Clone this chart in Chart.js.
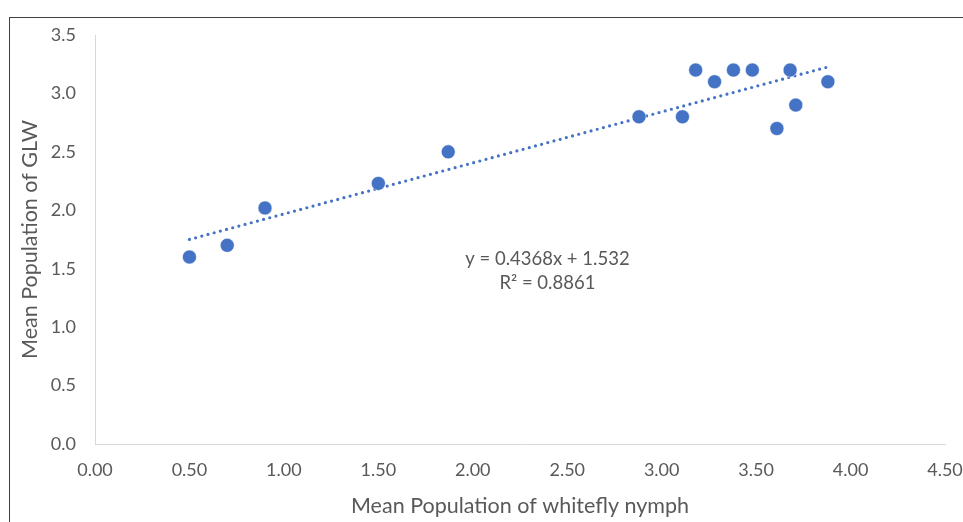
<!DOCTYPE html>
<html>
<head>
<meta charset="utf-8">
<script src="https://cdn.jsdelivr.net/npm/chart.js@4.4.0/dist/chart.umd.min.js"></script>
<style>
  html, body { margin: 0; padding: 0; background: #fff; }
  #wrap { width: 963px; height: 522px; position: relative; }
</style>
</head>
<body>
<div id="wrap"><canvas id="chart"></canvas></div>
<script>
// values
const nymphX = [0.50, 0.70, 0.90, 1.50, 1.87, 2.88, 3.11, 3.18, 3.28, 3.38, 3.48, 3.61, 3.68, 3.71, 3.88];
const glwY   = [1.60, 1.70, 2.02, 2.23, 2.50, 2.80, 2.80, 3.20, 3.10, 3.20, 3.20, 2.70, 3.20, 2.90, 3.10];

// trendline as printed on the chart
const slope = 0.4368;
const intercept = 1.532;
const eqLines = ['y = 0.4368x + 1.532', 'R\u00b2 = 0.8861'];
const eqAt = { x: 2.395, y: 1.58 };

const points = nymphX.map((x, i) => ({ x: x, y: glwY[i] }));
const xMin = Math.min(...nymphX), xMax = Math.max(...nymphX);
const trend = [xMin, xMax].map(x => ({ x: x, y: slope * x + intercept }));

const grey = '#595959';
const blue = '#4472C4';

const extras = {
  id: 'extras',
  afterDraw(chart) {
    const ctx = chart.ctx;
    const xs = chart.scales.x, ys = chart.scales.y;
    ctx.save();
    // outer chart frame (only top/left visible)
    ctx.strokeStyle = '#404040';
    ctx.lineWidth = 1;
    ctx.strokeRect(9.5, 17.5, 1000, 1000);
    // equation label
    ctx.fillStyle = grey;
    ctx.font = '18.5px Lato';
    ctx.textAlign = 'center';
    ctx.textBaseline = 'middle';
    const cx = xs.getPixelForValue(eqAt.x);
    const cy = ys.getPixelForValue(eqAt.y);
    ctx.fillText(eqLines[0], cx, cy);
    ctx.fillText(eqLines[1], cx, cy + 24);
    ctx.restore();
  }
};

new Chart(document.getElementById('chart'), {
  type: 'scatter',
  data: {
    datasets: [
      {
        data: points,
        backgroundColor: blue,
        borderColor: '#ffffff',
        borderWidth: 0.5,
        pointRadius: 7,
        order: 1
      },
      {
        type: 'line',
        data: trend,
        borderColor: blue,
        borderWidth: 3.2,
        borderDash: [0, 6.4],
        borderCapStyle: 'round',
        pointRadius: 0,
        fill: false,
        order: 2
      }
    ]
  },
  options: {
    responsive: true,
    maintainAspectRatio: false,
    animation: false,
    layout: { padding: { top: 35, right: 18, left: 17, bottom: 0 } },
    plugins: {
      legend: { display: false },
      tooltip: { enabled: false }
    },
    scales: {
      x: {
        type: 'linear',
        min: 0,
        max: 4.5,
        grid: { display: false, drawTicks: false },
        border: { display: true, color: '#d9d9d9', width: 1 },
        ticks: {
          stepSize: 0.5,
          color: grey,
          font: { family: 'Lato', size: 18 },
          padding: 15,
          maxRotation: 0,
          callback: v => Number(v).toFixed(2)
        },
        title: {
          display: true,
          text: 'Mean Population of whitefly nymph',
          color: grey,
          font: { family: 'Lato', size: 21.5 },
          padding: { top: 4, bottom: 3 }
        },
        afterFit(scale) {
          scale.height = 78;
          scale.paddingLeft = 0;
          scale.paddingRight = 0;
        }
      },
      y: {
        min: 0,
        max: 3.5,
        grid: { display: false, drawTicks: false },
        border: { display: true, color: '#d9d9d9', width: 1 },
        ticks: {
          stepSize: 0.5,
          color: grey,
          font: { family: 'Lato', size: 18 },
          padding: 19,
          callback: v => Number(v).toFixed(1)
        },
        title: {
          display: true,
          text: 'Mean Population of GLW',
          color: grey,
          font: { family: 'Lato', size: 21.5 },
          padding: { top: 0, bottom: 6 }
        },
        afterFit(scale) {
          scale.width = 78;
          scale.paddingTop = 0;
          scale.paddingBottom = 0;
        }
      }
    }
  },
  plugins: [extras]
});
</script>
</body>
</html>
